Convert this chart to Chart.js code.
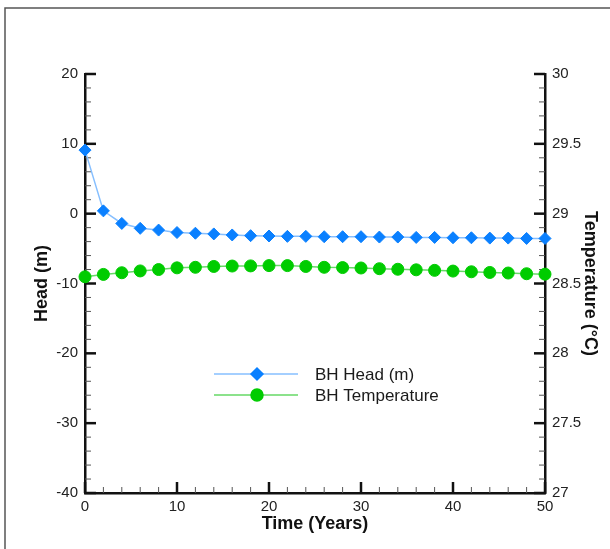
<!DOCTYPE html>
<html>
<head>
<meta charset="utf-8">
<script src="https://cdn.jsdelivr.net/npm/chart.js@4.4.1/dist/chart.umd.min.js"></script>
<style>
  body { margin: 0; background: #fff; }
  #wrap { position: relative; width: 610px; height: 549px; }
</style>
</head>
<body>
<div id="wrap"><canvas id="myChart" width="610" height="549"></canvas></div>
<script>
// Sample data
const years = [0, 2, 4, 6, 8, 10, 12, 14, 16, 18, 20, 22, 24, 26, 28, 30, 32, 34, 36, 38, 40, 42, 44, 46, 48, 50];
const headValues = [9.1, 0.4, -1.4, -2.1, -2.35, -2.7, -2.8, -2.9, -3.05, -3.15, -3.2, -3.25, -3.25,
                    -3.3, -3.3, -3.3, -3.35, -3.35, -3.4, -3.4, -3.45, -3.45, -3.5, -3.5, -3.55, -3.55];
const tempValues = [28.548, 28.565, 28.577, 28.59, 28.6, 28.612, 28.616, 28.622, 28.625, 28.626, 28.628, 28.628, 28.622,
                    28.616, 28.614, 28.611, 28.606, 28.602, 28.598, 28.594, 28.589, 28.584, 28.579, 28.575, 28.57, 28.567];
const seriesNames = ['BH Head (m)', 'BH Temperature'];

const FONT = "Arial, 'Liberation Sans', sans-serif";
const headColor = '#0a80ff', headLine = '#86bfff';
const tempColor = '#00cc00', tempLine = '#66d966';

// inward tick marks, major + minor
const tickPlugin = {
  id: 'inTicks',
  beforeDatasetsDraw(chart) {
    const ctx = chart.ctx;
    const a = chart.chartArea;
    const sets = [
      { s: chart.scales.x, minor: 2, major: 10, side: 'bottom' },
      { s: chart.scales.y, minor: 2, major: 10, side: 'left' },
      { s: chart.scales.y1, minor: 0.1, major: 0.5, side: 'right' }
    ];
    ctx.save();
    sets.forEach(function(o) {
      const n = Math.round((o.s.max - o.s.min) / o.minor);
      for (let i = 0; i <= n; i++) {
        const v = o.s.min + i * o.minor;
        const isMajor = Math.abs(v / o.major - Math.round(v / o.major)) < 1e-6;
        const len = isMajor ? 11 : 6;
        ctx.lineWidth = isMajor ? 2.5 : 1;
        ctx.strokeStyle = isMajor ? '#111' : '#555';
        const p = o.s.getPixelForValue(v);
        ctx.beginPath();
        if (o.side === 'bottom') { ctx.moveTo(p, a.bottom); ctx.lineTo(p, a.bottom - len); }
        if (o.side === 'left') { ctx.moveTo(a.left, p); ctx.lineTo(a.left + len, p); }
        if (o.side === 'right') { ctx.moveTo(a.right, p); ctx.lineTo(a.right - len, p); }
        ctx.stroke();
      }
    });
    ctx.restore();
  },
  beforeDraw(chart) {
    // outer frame (top and left edges only)
    const ctx = chart.ctx;
    ctx.save();
    ctx.strokeStyle = '#555';
    ctx.lineWidth = 1.5;
    ctx.beginPath();
    ctx.moveTo(5, 549);
    ctx.lineTo(5, 8);
    ctx.lineTo(610, 8);
    ctx.stroke();
    ctx.restore();
  }
};

// legend drawn inside the plot
const legendPlugin = {
  id: 'boxLegend',
  afterDatasetsDraw(chart) {
    const ctx = chart.ctx;
    const rows = [
      { y: 374, line: headLine, fill: headColor, style: 'rectRot', r: 6 },
      { y: 395, line: tempLine, fill: tempColor, style: 'circle', r: 6 }
    ];
    ctx.save();
    rows.forEach(function(row, i) {
      ctx.strokeStyle = row.line;
      ctx.lineWidth = 1.5;
      ctx.beginPath();
      ctx.moveTo(214, row.y);
      ctx.lineTo(298, row.y);
      ctx.stroke();
      ctx.fillStyle = row.fill;
      ctx.strokeStyle = row.fill;
      Chart.helpers.drawPoint(ctx, { pointStyle: row.style, radius: row.r, borderWidth: 1, rotation: 0 }, 257, row.y);
      ctx.fillStyle = '#1a1a1a';
      ctx.font = '17px ' + FONT;
      ctx.textBaseline = 'middle';
      ctx.textAlign = 'left';
      ctx.fillText(seriesNames[i], 315, row.y + 1);
    });
    ctx.restore();
  }
};

const data = {
  datasets: [
    {
      label: seriesNames[0],
      data: years.map(function(x, i) { return { x: x, y: headValues[i] }; }),
      yAxisID: 'y',
      clip: false,
      borderColor: headLine,
      borderWidth: 1.5,
      pointStyle: 'rectRot',
      pointRadius: 6,
      pointBackgroundColor: headColor,
      pointBorderColor: headColor,
      pointBorderWidth: 1
    },
    {
      label: seriesNames[1],
      data: years.map(function(x, i) { return { x: x, y: tempValues[i] }; }),
      yAxisID: 'y1',
      clip: false,
      borderColor: tempLine,
      borderWidth: 1.5,
      pointStyle: 'circle',
      pointRadius: 6,
      pointBackgroundColor: tempColor,
      pointBorderColor: tempColor,
      pointBorderWidth: 1
    }
  ]
};

const tickFont = { family: FONT, size: 15 };
const titleFont = { family: FONT, size: 18, weight: 'bold' };

const config = {
  type: 'line',
  data: data,
  options: {
    responsive: false,
    animation: false,
    layout: { padding: { top: 74, left: 0, right: 0, bottom: 0 } },
    plugins: { legend: { display: false }, tooltip: { enabled: false } },
    scales: {
      x: {
        type: 'linear',
        min: 0, max: 50,
        ticks: { stepSize: 10, font: tickFont, color: '#222', padding: 5, maxRotation: 0 },
        grid: { drawOnChartArea: false, drawTicks: false },
        border: { display: true, color: '#111', width: 2.5 },
        title: { display: true, text: 'Time (Years)', font: titleFont, color: '#111', padding: { top: 0, bottom: 14 } },
        afterFit: function(s) { s.height = 56; }
      },
      y: {
        position: 'left',
        min: -40, max: 20,
        ticks: { stepSize: 10, font: tickFont, color: '#222', padding: 7 },
        grid: { drawOnChartArea: false, drawTicks: false },
        border: { display: true, color: '#111', width: 2.5 },
        title: { display: true, text: 'Head (m)', font: titleFont, color: '#111', padding: { top: 31, bottom: 0 } },
        afterFit: function(s) { s.width = 85; }
      },
      y1: {
        position: 'right',
        min: 27, max: 30,
        ticks: {
          stepSize: 0.5, font: tickFont, color: '#222', padding: 7,
          callback: function(v) { return String(Math.round(v * 10) / 10); }
        },
        grid: { drawOnChartArea: false, drawTicks: false },
        border: { display: true, color: '#111', width: 2.5 },
        title: { display: true, text: 'Temperature (°C)', font: titleFont, color: '#111', padding: { top: 9, bottom: 0 } },
        afterFit: function(s) { s.width = 65; }
      }
    }
  },
  plugins: [tickPlugin, legendPlugin]
};

const myChart = new Chart(document.getElementById('myChart'), config);
</script>
</body>
</html>
